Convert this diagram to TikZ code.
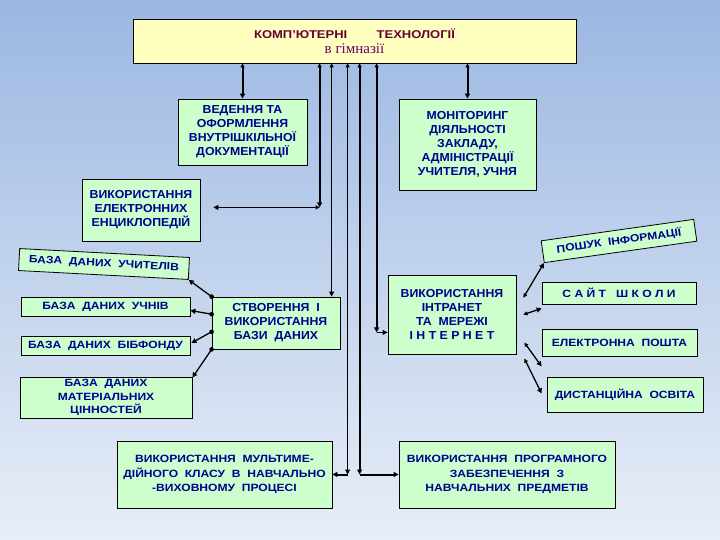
\documentclass[tikz,border=0pt]{standalone}
\usepackage{fontspec}
\setmainfont{Liberation Sans}
\newfontfamily\serifz{Liberation Serif}
\newfontfamily\widesans[FakeStretch=1.15]{Liberation Sans}
\newfontfamily\midsans[FakeStretch=1.06]{Liberation Sans}
\usetikzlibrary{arrows.meta,calc}
\definecolor{bgtop}{RGB}{155,183,226}
\definecolor{bgbot}{RGB}{232,238,247}
\definecolor{boxg}{RGB}{204,255,204}
\definecolor{boxy}{RGB}{255,255,192}
\definecolor{txtb}{RGB}{0,0,145}
\definecolor{txtm}{RGB}{102,0,51}
\definecolor{txtp}{RGB}{110,0,110}
\tikzset{
  bt/.tip={Triangle[length=5pt,width=5pt]},
  st/.tip={Triangle[length=4pt,width=4pt]}
}
\begin{document}
\begin{tikzpicture}[x=1pt,y=-1pt,
  box/.style={draw=black, line width=0.8pt, fill=boxg, inner sep=0pt, align=center, text=txtb, font=\midsans\bfseries\fontsize{11.6}{13.9}\selectfont},
  fs10/.style={font=\widesans\bfseries\fontsize{10.5}{13.5}\selectfont},
  fs10b/.style={font=\widesans\bfseries\fontsize{10.5}{14.5}\selectfont},
  thk/.style={line width=2pt},
  thn/.style={line width=1pt}
]
\useasboundingbox (0,0) rectangle (720,540);
\shade[top color=bgtop, bottom color=bgbot] (0,0) rectangle (720,540);

% title
\node[draw=black, line width=0.8pt, fill=boxy, minimum width=443pt, minimum height=44pt, inner sep=0pt, align=center] (title) at (354.5,41)
 {{\color{txtm}\widesans\bfseries\fontsize{11.3}{14}\selectfont КОМП’ЮТЕРНІ\hspace{2.6em}ТЕХНОЛОГІЇ}\\[3pt]{\serifz\color{txtp}\fontsize{15}{15}\selectfont в гімназії}};

% boxes
\node[box, minimum width=129pt, minimum height=66pt] (ved) at (242.5,132) {ВЕДЕННЯ ТА\\ОФОРМЛЕННЯ\\ВНУТРІШКІЛЬНОЇ\\ДОКУМЕНТАЦІЇ};
\node[box, minimum width=137pt, minimum height=91pt] (mon) at (467.5,144.5) {МОНІТОРИНГ\\ДІЯЛЬНОСТІ\\ЗАКЛАДУ,\\АДМІНІСТРАЦІЇ\\УЧИТЕЛЯ, УЧНЯ};
\node[box, minimum width=118pt, minimum height=62pt] (enc) at (141,210) {ВИКОРИСТАННЯ\\ЕЛЕКТРОННИХ\\ЕНЦИКЛОПЕДІЙ};
\node[box, fs10, minimum width=170pt, minimum height=22pt, rotate=-3] (uch) at (104,264) {БАЗА\ \ ДАНИХ\ \ УЧИТЕЛІВ};
\node[box, fs10, minimum width=169pt, minimum height=19pt] (pup) at (105.5,306.5) {БАЗА\ \ ДАНИХ\ \ УЧНІВ};
\node[box, fs10, minimum width=169pt, minimum height=19pt] (bib) at (105.5,346) {БАЗА\ \ ДАНИХ\ \ БІБФОНДУ};
\node[box, fs10, minimum width=172pt, minimum height=41pt] (mat) at (106,397.5) {БАЗА\ \ ДАНИХ\\МАТЕРІАЛЬНИХ\\ЦІННОСТЕЙ};
\node[box, minimum width=128pt, minimum height=52pt] (db) at (276,323) {СТВОРЕННЯ\ \ І\\ВИКОРИСТАННЯ\\БАЗИ\ \ ДАНИХ};
\node[box, minimum width=128pt, minimum height=79pt] (intr) at (452,314.5) {ВИКОРИСТАННЯ\\ІНТРАНЕТ\\ТА\ \ МЕРЕЖІ\\І\ Н\ Т\ Е\ Р\ Н\ Е\ Т};
\node[box, fs10, minimum width=154pt, minimum height=22pt, rotate=8] (posh) at (619,241) {ПОШУК\ \ ІНФОРМАЦІЇ};
\node[box, fs10, minimum width=154pt, minimum height=22pt] (site) at (619,293) {С\ А\ Й\ Т\ \ \ Ш\ К\ О\ Л\ И};
\node[box, fs10, minimum width=155pt, minimum height=27pt] (mail) at (619.5,342.5) {ЕЛЕКТРОННА\ \ ПОШТА};
\node[box, fs10, minimum width=156pt, minimum height=35pt] (dist) at (625,394.5) {ДИСТАНЦІЙНА\ \ ОСВІТА};
\node[box, fs10b, minimum width=215pt, minimum height=67pt] (mm) at (224.5,474.5) {ВИКОРИСТАННЯ\ \ МУЛЬТИМЕ-\\ДІЙНОГО\ \ КЛАСУ\ \ В\ \ НАВЧАЛЬНО\\-ВИХОВНОМУ\ \ ПРОЦЕСІ};
\node[box, fs10b, minimum width=216pt, minimum height=67pt] (prog) at (507,474.5) {ВИКОРИСТАННЯ\ \ ПРОГРАМНОГО\\ЗАБЕЗПЕЧЕННЯ\ \ З\\НАВЧАЛЬНИХ\ \ ПРЕДМЕТІВ};

% vertical trunk lines from the title
\coordinate (t1) at ($(title.south west)+(187,0)$);
\coordinate (t2) at ($(title.south west)+(199,0)$);
\coordinate (t3) at ($(title.south west)+(215,0)$);
\coordinate (t4) at ($(title.south west)+(227,0)$);
\coordinate (t5) at ($(title.south west)+(244,0)$);
\coordinate (e1) at ($(t1)+(0,144)$);
\coordinate (e3) at (t3 |- mm.east);
\coordinate (e4) at (t4 |- prog.west);
\coordinate (e5) at ($(t5)+(0,269)$);

\draw[thk,{st}-{bt}] (title.south -| ved.north) -- (ved.north);
\draw[thk,{st}-{bt}] (title.south -| mon.north) -- (mon.north);
\draw[thk,{st}-{bt}] (t1) -- (e1);
\draw[thn,{st}-{bt}, shorten >=13pt] (e1) -- (e1 -| enc.east);
\draw[thn,{st}-{bt}] (t2) -- (t2 |- db.north);
\draw[thn,{st}-{bt}] (t3) -- (e3);
\draw[thk,-{bt}] (e3) -- (mm.east);
\draw[thk,{st}-{bt}] (t4) -- (e4);
\draw[thk,-{bt}] (e4) -- (prog.west);
\draw[thk,{st}-{bt}] (t5) -- (e5);
\draw[thn,-{bt}] (e5) -- (e5 -| intr.west);

% database branches
\coordinate (d1) at (db.north west);
\coordinate (d2) at ($(db.north west)!1/3!(db.south west)$);
\coordinate (d3) at ($(db.north west)!2/3!(db.south west)$);
\coordinate (d4) at (db.south west);
\draw[line width=1.3pt,-{bt}] (d1) -- (uch.south east);
\draw[line width=1.3pt,-{bt}] (d2) -- ($(pup.east)+(0,4)$);
\draw[line width=1.3pt,-{bt}] (d3) -- ($(bib.east)+(1,-3)$);
\draw[line width=1.3pt,-{bt}] (d4) -- ($(mat.north east)+(0,1)$);
\foreach \d in {d1,d2,d3,d4} \fill (\d) circle (2.3pt);

% internet branches
\coordinate (i1) at ($(intr.north east)+(7,23)$);
\coordinate (i2) at ($(intr.north east)+(7,40)$);
\coordinate (i3) at ($(intr.north east)+(8,68)$);
\coordinate (i4) at ($(intr.north east)+(8,84)$);
\draw[line width=1.3pt,{st}-{bt}] (i1) -- (posh.south west);
\draw[line width=1.3pt,{st}-{bt}] (i2) -- ($(site.south west)+(0,4)$);
\draw[line width=1.3pt,{st}-{bt}] (i3) -- ($(mail.south west)+(0,10)$);
\draw[line width=1.3pt,{st}-{bt}] (i4) -- ($(dist.west)+(-5,-1)$);
\end{tikzpicture}
\end{document}
